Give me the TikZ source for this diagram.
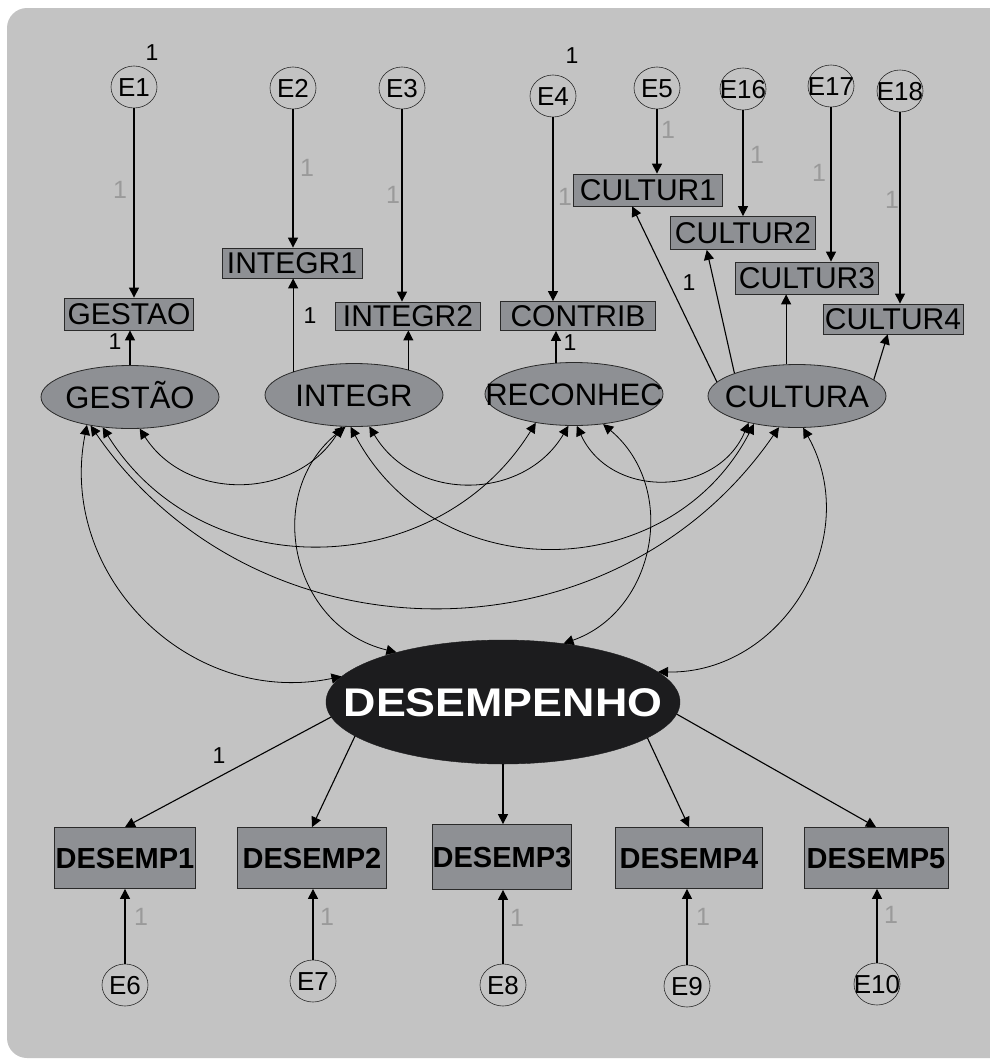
\documentclass[tikz,border=0pt]{standalone}
\usepackage{graphicx}
\usepackage{fontspec}
\setmainfont{Liberation Sans}
\usetikzlibrary{arrows.meta,shapes.geometric,calc}

\definecolor{bg}{HTML}{C3C3C3}
\definecolor{boxfill}{HTML}{8E9094}
\definecolor{edge}{HTML}{2A2A2A}
\definecolor{dark}{HTML}{1C1C1E}
\definecolor{faint}{HTML}{9A9A9A}
\newcommand\ctr[1]{\makebox[0pt]{#1}}

\begin{document}
\begin{tikzpicture}[x=1pt,y=-1pt,
  >={Triangle[length=10pt,width=10pt]},
  err/.style={ellipse, draw=edge, line width=0.6pt, minimum width=46pt, minimum height=42pt,
    inner sep=0pt, font=\fontsize{26}{26}\selectfont, text height=18.6pt, text depth=0pt},
  obs/.style={rectangle, draw=edge, fill=boxfill, line width=0.8pt, inner sep=0pt,
    font=\fontsize{30}{30}\selectfont, text height=21.5pt, text depth=0pt},
  dbox/.style={rectangle, draw=edge, fill=boxfill, line width=0.8pt, inner sep=0pt,
    minimum height=61pt, font=\bfseries\fontsize{29}{29}\selectfont, text height=20.8pt, text depth=0pt},
  lat/.style={ellipse, draw=edge, fill=boxfill, line width=0.8pt, minimum width=178pt,
    minimum height=63pt, inner sep=0pt, font=\fontsize{31}{31}\selectfont, text height=22.2pt, text depth=0pt},
  load/.style={->, draw=black, line width=1.1pt},
  cov/.style={<->, draw=black, line width=0.8pt},
  one/.style={font=\fontsize{23}{23}\selectfont, inner sep=0pt},
  grayone/.style={font=\fontsize{25}{25}\selectfont, inner sep=0pt, text=faint},
]
\useasboundingbox (0,0) rectangle (990,1061);
\clip (0,0) rectangle (990,1061);
\fill[white] (0,0) rectangle (990,1061);
\fill[bg, rounded corners=20pt] (7,8) rectangle (1010,1058);

% error terms, top row
\node[err] (E1)  at (134,87) {\ctr{E1}};
\node[err] (E2)  at (293,88) {\ctr{E2}};
\node[err] (E3)  at (402,88) {\ctr{E3}};
\node[err] (E4)  at (553,96) {\ctr{E4}};
\node[err] (E5)  at (657,88) {\ctr{E5}};
\node[err] (E16) at (743,89) {\ctr{E16}};
\node[err] (E17) at (831,86) {\ctr{E17}};
\node[err] (E18) at (900,91) {\ctr{E18}};

% observed indicators, top
\node[obs, minimum width=129pt, minimum height=32pt] (GST) at (129,314) {\ctr{GESTAO}};
\node[obs, minimum width=140pt, minimum height=30pt] (I1)  at (292,263) {\ctr{INTEGR1}};
\node[obs, minimum width=145pt, minimum height=28pt] (I2)  at (408,316) {\ctr{INTEGR2}};
\node[obs, minimum width=155pt, minimum height=29pt] (CTB) at (578,316) {\ctr{CONTRIB}};
\node[obs, minimum width=149pt, minimum height=32pt] (C1)  at (648,190) {\ctr{CULTUR1}};
\node[obs, minimum width=145pt, minimum height=33pt] (C2)  at (743,233) {\ctr{CULTUR2}};
\node[obs, minimum width=143pt, minimum height=32pt] (C3)  at (807,278) {\ctr{CULTUR3}};
\node[obs, minimum width=140pt, minimum height=30pt] (C4)  at (893,319) {\ctr{CULTUR4}};

% latent factors
\node[lat] (GES) at (130,397) {\ctr{GESTÃO}};
\node[lat] (INT) at (354,395) {\ctr{INTEGR}};
\node[lat] (REC) at (574,394) {\ctr{RECONHEC}};
\node[lat] (CUL) at (797,396) {\ctr{CULTURA}};

\node[ellipse, fill=dark, draw=dark, minimum width=354pt, minimum height=124pt, inner sep=0pt,
  text=white, font=\bfseries\fontsize{40}{40}\selectfont, text height=28.6pt, text depth=0pt]
  (DES) at (503,702) {\ctr{\scalebox{1.12}[1]{DESEMPENHO}}};

% observed indicators, bottom
\node[dbox, minimum width=141pt] (D1) at (125,858) {\ctr{DESEMP1}};
\node[dbox, minimum width=149pt] (D2) at (312,858) {\ctr{DESEMP2}};
\node[dbox, minimum width=139pt, minimum height=65pt] (D3) at (502,857) {\ctr{DESEMP3}};
\node[dbox, minimum width=147pt] (D4) at (689,858) {\ctr{DESEMP4}};
\node[dbox, minimum width=144pt] (D5) at (876,858) {\ctr{DESEMP5}};

% error terms, bottom row
\node[err] (E6)  at (125,985) {\ctr{E6}};
\node[err] (E7)  at (313,981) {\ctr{E7}};
\node[err] (E8)  at (503,985) {\ctr{E8}};
\node[err] (E9)  at (687,986) {\ctr{E9}};
\node[err] (E10) at (877,984) {\ctr{E10}};

% error -> indicator paths
\draw[load] (E1.south)  -- (E1.south |- GST.north);
\draw[load] (E2.south)  -- (E2.south |- I1.north);
\draw[load] (E3.south)  -- (E3.south |- I2.north);
\draw[load] (E4.south)  -- (E4.south |- CTB.north);
\draw[load] (E5.south)  -- (E5.south |- C1.north);
\draw[load] (E16.south) -- (E16.south |- C2.north);
\draw[load] (E17.south) -- (E17.south |- C3.north);
\draw[load] (E18.south) -- (E18.south |- C4.north);

% factor loadings
\draw[load] (GES.north) -- (GES.north |- GST.south);
\draw[load] (INT.159.3) -- (INT.159.3 |- I1.south);
\draw[load] (INT.25.7)  -- (INT.25.7 |- I2.south);
\draw[load] (REC.120.6) -- (REC.120.6 |- CTB.south);
\draw[load] (CUL.170.4) -- (C1.226.8);
\draw[load] (CUL.160.3) -- (C2.205.2);
\draw[load] (CUL.109.7) -- (CUL.109.7 |- C3.south);
\draw[load] (CUL.12.6)  -- (C4.251.6);

\draw[load] (DES.185)   -- (D1.north);
\draw[load] (DES.193.8) -- (D2.north);
\draw[load] (DES.south) -- (DES.south |- D3.north);
\draw[load] (DES.346.2) -- (D4.north);
\draw[load] (DES.356)   -- (D5.north);

\draw[load] (E6.north)  -- (E6.north |- D1.south);
\draw[load] (E7.north)  -- (E7.north |- D2.south);
\draw[load] (E8.north)  -- (E8.north |- D3.south);
\draw[load] (E9.north)  -- (E9.north |- D4.south);
\draw[load] (E10.north) -- (E10.north |- D5.south);

% covariances between factors
\draw[cov] (GES.287.5) .. controls (187,502) and (295,500) .. (INT.249.3);
\draw[cov] (GES.228.5) .. controls (203,588) and (437,582) .. (REC.217.4);
\draw[cov] (GES.216.4) .. controls (257,667) and (614,667) .. (CUL.240.8);
\draw[cov] (GES.213.1) .. controls (57,576) and (190,708) .. (DES.171.6);
\draw[cov] (INT.296.9) .. controls (415,503) and (524,501) .. (REC.260.8);
\draw[cov] (INT.264.6) .. controls (437,590) and (670,586) .. (CUL.213);
\draw[cov] (INT.255.9) .. controls (262,493) and (291,627) .. (DES.155.6);
\draw[cov] (REC.275.5) .. controls (611,500) and (717,497) .. (CUL.209.9);
\draw[cov] (REC.314.7) .. controls (679,488) and (656,611) .. (DES.44.8);
\draw[cov] (CUL.281)   .. controls (865,538) and (782,674) .. (DES.11.8);

% fixed parameters
\node[one] (vE1) at (152,53) {1};
\node[one] (vE4) at (572,56) {1};
\node[one] (wG)  at (115,342) {1};
\node[one] (wI)  at (310,316) {1};
\node[one] (wR)  at (570,343) {1};
\node[one] (wC)  at (689,283) {1};
\node[one] (wD)  at (219,756) {1};

\node[grayone] (g1)  at (120,190) {1};
\node[grayone] (g2)  at (307,168) {1};
\node[grayone] (g3)  at (393,195) {1};
\node[grayone] (g4)  at (565,197) {1};
\node[grayone] (g5)  at (668,130) {1};
\node[grayone] (g16) at (757,155) {1};
\node[grayone] (g17) at (819,173) {1};
\node[grayone] (g18) at (892,200) {1};
\node[grayone] (g6)  at (141,917) {1};
\node[grayone] (g7)  at (327,917) {1};
\node[grayone] (g8)  at (517,918) {1};
\node[grayone] (g9)  at (703,917) {1};
\node[grayone] (g10) at (891,915) {1};
\end{tikzpicture}
\end{document}
